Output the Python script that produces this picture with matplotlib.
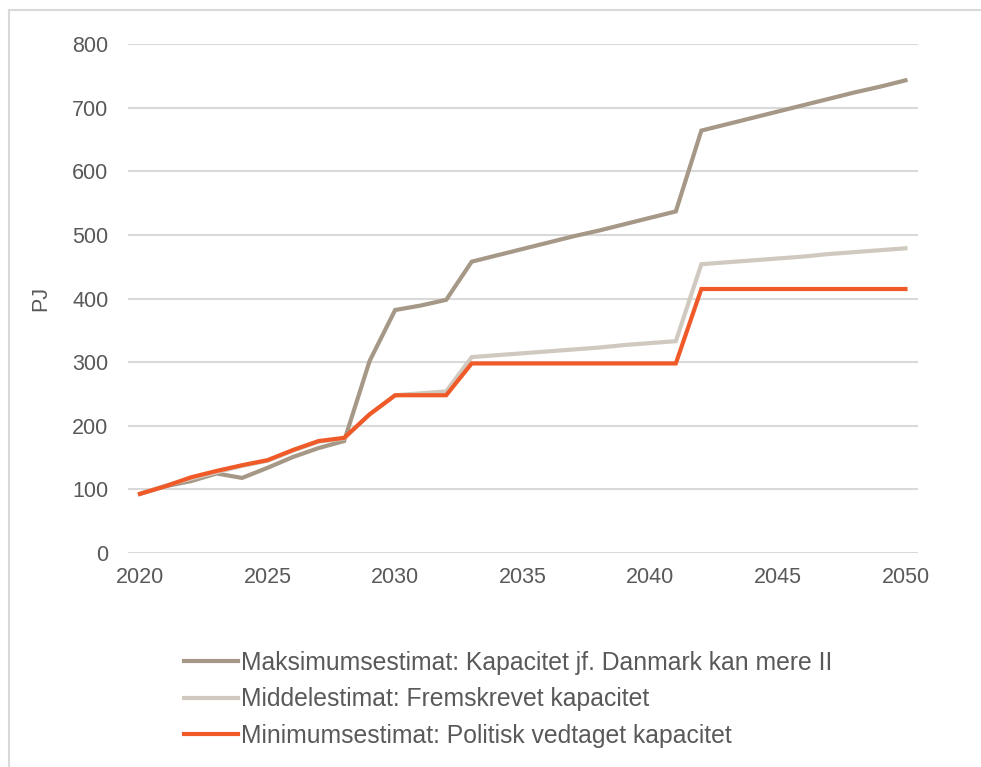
import matplotlib
matplotlib.use("Agg")
import matplotlib.pyplot as plt
from matplotlib.lines import Line2D

years = list(range(2020, 2051))

maks = [93, 105, 113, 125, 118, 134, 151, 165, 176, 302,
        382, 389, 398, 458, 468, 478, 488, 498, 507, 517,
        527, 537, 664, 674, 684, 694, 704, 714, 724, 733, 743]

middel = [93, 106, 117, 127, 137, 145, 161, 175, 180, 218,
          248, 251, 254, 308, 311, 314, 317, 320, 323, 327,
          330, 333, 454, 457, 460, 463, 466, 470, 473, 476, 479]

minimum = [93, 105, 119, 129, 138, 146, 162, 176, 181, 218,
           248, 248, 248, 298, 298, 298, 298, 298, 298, 298,
           298, 298, 415, 415, 415, 415, 415, 415, 415, 415, 415]

labels = ["Maksimumsestimat: Kapacitet jf. Danmark kan mere II",
          "Middelestimat: Fremskrevet kapacitet",
          "Minimumsestimat: Politisk vedtaget kapacitet"]
colors = ["#A69886", "#D0C9BF", "#F05A28"]

xticks = [2020, 2025, 2030, 2035, 2040, 2045, 2050]
yticks = [0, 100, 200, 300, 400, 500, 600, 700, 800]

plt.rcParams['font.family'] = ['Liberation Sans', 'DejaVu Sans']
fig = plt.figure(figsize=(9.81, 7.67), dpi=100)
ax = fig.add_axes([0.1305, 0.279, 0.8055, 0.6635])

for series, lab, col in zip([maks, middel, minimum], labels, colors):
    ax.plot(years, series, color=col, lw=3.0, label=lab, solid_joinstyle='miter')

ax.set_xlim(2019.53, 2050.5)
ax.set_ylim(0, 800)
ax.set_xticks(xticks)
ax.set_yticks(yticks)
ax.tick_params(axis='both', length=0, labelsize=15.5, colors='#595959', pad=14)
ax.tick_params(axis='x', pad=10)
ax.grid(axis='y', color='#D9D9D9', lw=1.5)
ax.set_axisbelow(True)
for s in ax.spines.values():
    s.set_visible(False)
ax.set_ylabel("PJ", fontsize=15.5, color='#595959', labelpad=15)

leg = fig.legend(loc='upper left', bbox_to_anchor=(0.177, 0.164), frameon=False,
                 fontsize=17.8, handlelength=2.2, handletextpad=0.12,
                 labelspacing=0.50, borderaxespad=0)
for t in leg.get_texts():
    t.set_color('#595959')

fig.add_artist(Line2D([8.5/981, 1.0], [1 - 9.5/767, 1 - 9.5/767],
                      transform=fig.transFigure, color='#D9D9D9', lw=1.5))
fig.add_artist(Line2D([8.5/981, 8.5/981], [0, 1 - 9.5/767],
                      transform=fig.transFigure, color='#D9D9D9', lw=1.5))

fig.savefig("out.png", dpi=100)
